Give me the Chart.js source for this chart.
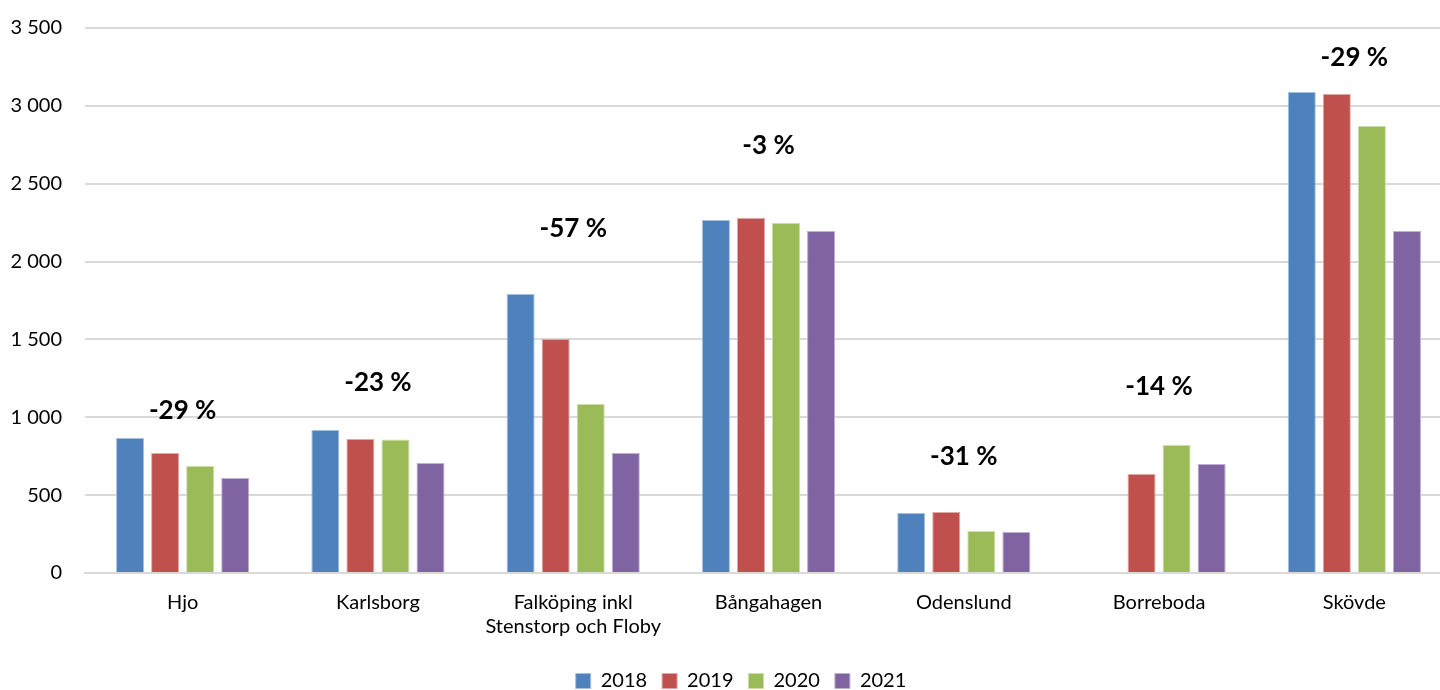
<!DOCTYPE html>
<html>
<head>
<meta charset="utf-8">
<script src="https://cdn.jsdelivr.net/npm/chart.js@4"></script>
<style>
  html, body { margin: 0; padding: 0; background: #fff; overflow: hidden; }
  #wrap { width: 1452px; height: 708px; position: absolute; left: 0; top: -7px; }
</style>
</head>
<body>
<div id="wrap"><canvas id="chart"></canvas></div>
<script>
// categories and yearly values
var places = ['Hjo', 'Karlsborg', ['Falköping inkl', 'Stenstorp och Floby'], 'Bångahagen', 'Odenslund', 'Borreboda', 'Skövde'];
var years = ['2018', '2019', '2020', '2021'];
var v2018 = [867, 918, 1792, 2267, 385, null, 3089];
var v2019 = [771, 861, 1503, 2280, 392, 636, 3076];
var v2020 = [687, 857, 1085, 2248, 270, 822, 2871];
var v2021 = [610, 706, 771, 2196, 263, 700, 2196];
// change labels and the value level they sit at
var changes = ['-29 %', '-23 %', '-57 %', '-3 %', '-31 %', '-14 %', '-29 %'];
var changeAt = [1040, 1220, 2209, 2742, 745, 1194, 3307];

var fill = ['#4F81BD', '#C0504D', '#9BBB59', '#8064A2'];
var edge = ['#A7C0DE', '#DFA8A6', '#CDDDAC', '#BFB1D0'];
var font = 'Lato, "Open Sans", sans-serif';

var changeLabels = {
    id: 'changeLabels',
    afterLayout: function (chart) {
        // nudge the legend a bit to the right, like the original
        chart.legend.left += 15;
        chart.legend.right += 15;
    },
    afterDatasetsDraw: function (chart) {
        var ctx = chart.ctx;
        var x = chart.scales.x, y = chart.scales.y;
        ctx.save();
        ctx.font = 'bold 26px ' + font;
        ctx.fillStyle = '#000';
        ctx.textAlign = 'center';
        ctx.textBaseline = 'middle';
        changes.forEach(function (t, i) {
            ctx.fillText(t, x.getPixelForValue(i), y.getPixelForValue(changeAt[i]));
        });
        ctx.restore();
    }
};

var sets = [v2018, v2019, v2020, v2021].map(function (d, i) {
    return {
        label: years[i],
        data: d,
        backgroundColor: fill[i],
        borderColor: edge[i],
        borderWidth: 1,
        categoryPercentage: 0.718,
        barPercentage: 0.8
    };
});

new Chart(document.getElementById('chart').getContext('2d'), {
    type: 'bar',
    data: { labels: places, datasets: sets },
    plugins: [changeLabels],
    options: {
        responsive: true,
        maintainAspectRatio: false,
        animation: false,
        layout: { padding: { top: 10, right: 0, bottom: 0, left: 0 } },
        plugins: {
            legend: {
                position: 'bottom',
                labels: {
                    font: { family: font, size: 20 },
                    color: '#000',
                    boxWidth: 15,
                    boxHeight: 15,
                    padding: 15
                }
            },
            tooltip: { enabled: false }
        },
        scales: {
            x: {
                afterFit: function (s) { s.height = 83; },
                grid: { display: false },
                border: { display: true, color: '#d9d9d9', width: 2 },
                ticks: { font: { family: font, size: 20 }, color: '#000', padding: 10, maxRotation: 0 }
            },
            y: {
                min: 0,
                max: 3500,
                afterFit: function (s) { s.width = 85; },
                grid: { color: '#d9d9d9', lineWidth: 2, drawTicks: false },
                border: { display: false },
                ticks: {
                    stepSize: 500,
                    padding: 23,
                    font: { family: font, size: 20 },
                    color: '#000',
                    callback: function (v) { return v.toString().replace(/\B(?=(\d{3})+(?!\d))/g, ' '); }
                }
            }
        }
    }
});
</script>
</body>
</html>
